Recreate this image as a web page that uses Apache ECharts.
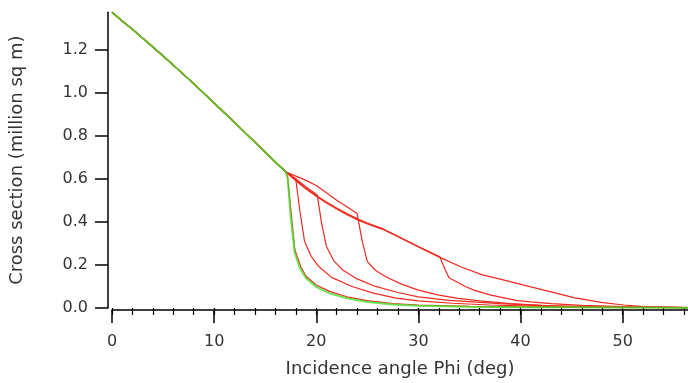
<!DOCTYPE html>
<html>
<head>
<meta charset="utf-8">
<script src="https://cdn.jsdelivr.net/npm/echarts@6/dist/echarts.min.js"></script>
<style>html,body{margin:0;padding:0;background:#fff}#c{width:688px;height:383px}</style>
</head>
<body>
<div id="c"></div>
<script>
// Shared initial part (all curves), angle (deg) -> cross section (million sq m)
const sharedX = [0,1,2,3,4,5,6,7,8,9,10,11,12,13,14,15,16,17];
const sharedY = [1.372,1.332,1.293,1.252,1.211,1.169,1.127,1.084,1.041,0.996,0.951,0.906,0.861,0.815,0.769,0.723,0.677,0.632];

// green curve tail
const greenX = [17.2,17.5,17.9,18.4,19,20,21.3,23,25,27.5,30,35,40,45,50,56.4];
const greenY = [0.605,0.42,0.255,0.185,0.138,0.098,0.068,0.045,0.028,0.016,0.010,0.006,0.004,0.003,0.002,0.001];

// red curves tails
const red1X = [17.2,17.9,18.5,19,20,21.3,23,25,27.5,30,35,40,50,56.4];
const red1Y = [0.605,0.27,0.19,0.147,0.107,0.077,0.052,0.034,0.021,0.014,0.008,0.005,0.002,0.001];

const red2X = [17.5,18.0,18.4,18.85,19.5,20.3,21.5,23.5,25.5,27.8,30,33.3,37,42,48,56.4];
const red2Y = [0.618,0.595,0.45,0.31,0.24,0.19,0.142,0.100,0.070,0.046,0.033,0.022,0.014,0.008,0.004,0.002];

const red3X = [18,19,20.1,20.5,21.0,21.7,22.6,24,25.8,28,30,33,38,43,48,56.4];
const red3Y = [0.600,0.562,0.524,0.40,0.285,0.22,0.176,0.135,0.100,0.072,0.052,0.035,0.020,0.010,0.005,0.002];

const red4X = [18,19,20,21,22,23,24,24.5,25,25.8,26.8,28.3,30,32,33.9,36,39,42,45,50,56.4];
const red4Y = [0.612,0.592,0.568,0.535,0.500,0.470,0.438,0.31,0.215,0.175,0.145,0.112,0.083,0.060,0.045,0.033,0.020,0.012,0.007,0.004,0.002];

const red5X = [18,19,20,21,22,23,24,25,26.5,28,30,32.1,32.6,33.0,34.6,35.5,37.1,39.7,41,43,46,50,56.4];
const red5Y = [0.594,0.556,0.522,0.492,0.464,0.438,0.415,0.394,0.368,0.333,0.285,0.238,0.18,0.14,0.100,0.082,0.060,0.034,0.028,0.020,0.012,0.006,0.002];

const red6X = [18,19,20,21,22,23,24,25,26.5,28,30,32.1,34.2,36.2,38.5,41,43,45.2,47.9,50.1,52,56.4];
const red6Y = [0.590,0.552,0.518,0.487,0.459,0.433,0.410,0.390,0.365,0.331,0.283,0.235,0.190,0.155,0.128,0.098,0.075,0.048,0.026,0.014,0.006,0.002];

const xTicks = [0,10,20,30,40,50];
const xMinorTicks = [0,2,4,6,8,10,12,14,16,18,20,22,24,26,28,30,32,34,36,38,40,42,44,46,48,50,52,54,56];
const yTicks = [0,0.2,0.4,0.6,0.8,1.0,1.2];

function build(tx, ty) {
  const d = sharedX.map((x, i) => [x, sharedY[i]]);
  tx.forEach((x, i) => d.push([x, ty[i]]));
  return d;
}

const RED = '#ee2a1e';
const GREEN = '#44dd2a';
const redSets = [[red1X,red1Y],[red2X,red2Y],[red3X,red3Y],[red4X,red4Y],[red5X,red5Y],[red6X,red6Y]];
const series = [];
redSets.forEach(s => series.push({type:'line', data: build(s[0], s[1]), symbol:'none',
  lineStyle:{color:RED, width:1.2}, z:2, silent:true}));
series.push({type:'line', data: build(greenX, greenY), symbol:'none',
  lineStyle:{color:GREEN, width:2, opacity:0.8}, z:3, silent:true});

const FONT = 'DejaVu Sans';
const chart = echarts.init(document.getElementById('c'), null, {renderer:'canvas'});
chart.setOption({
  animation:false,
  backgroundColor:'#fff',
  grid:{left:107.7, right:0, top:12.3, bottom:74.5, containLabel:false},
  xAxis:[{
    type:'value', min:0, max:56.4, interval:10, offset:2,
    name:'Incidence angle Phi (deg)', nameLocation:'middle', nameGap:50,
    nameTextStyle:{fontFamily:FONT, fontSize:18, color:'#333'},
    axisLine:{show:true, onZero:false, lineStyle:{color:'#000', width:1.5}},
    axisTick:{show:true, inside:false, length:13, lineStyle:{color:'#000', width:1.5}, customValues:xTicks},
    axisLabel:{fontFamily:FONT, fontSize:16, color:'#333', margin:24, customValues:xTicks,
      formatter: v => String(v)},
    splitLine:{show:false}
  },{
    type:'value', min:0, max:56.4, offset:2, position:'bottom',
    axisLine:{show:false},
    axisTick:{show:true, inside:false, length:7, lineStyle:{color:'#000', width:1.2}, customValues:xMinorTicks},
    axisLabel:{show:false},
    splitLine:{show:false}
  }],
  yAxis:{
    type:'value', min:0, max:1.372, interval:0.2, offset:4,
    name:'Cross section (million sq m)', nameLocation:'middle', nameGap:82,
    nameTextStyle:{fontFamily:FONT, fontSize:18, color:'#333'},
    axisLine:{show:true, onZero:false, lineStyle:{color:'#000', width:1.5}},
    axisTick:{show:true, inside:false, length:13, lineStyle:{color:'#000', width:1.5}, customValues:yTicks},
    axisLabel:{fontFamily:FONT, fontSize:16, color:'#333', margin:20, customValues:yTicks,
      formatter: v => v.toFixed(1)},
    splitLine:{show:false}
  },
  series: series
});
</script>
</body>
</html>
